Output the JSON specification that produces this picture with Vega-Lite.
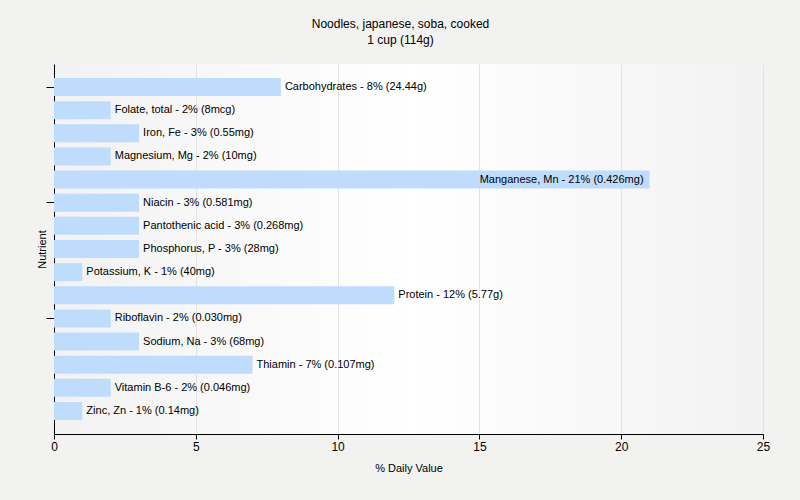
{
  "$schema": "https://vega.github.io/schema/vega-lite/v6.json",
  "width": 709,
  "height": 370,
  "autosize": {"type": "none"},
  "padding": {"left": 54, "top": 64, "right": 37, "bottom": 66},
  "background": "#f2f2f1",
  "title": {
    "text": ["Noodles, japanese, soba, cooked", "1 cup (114g)"],
    "font": "Liberation Sans",
    "fontSize": 12,
    "fontWeight": "normal",
    "color": "#000000",
    "anchor": "middle",
    "dx": -8,
    "offset": 17,
    "lineHeight": 16
  },
  "config": {
    "view": {
      "stroke": null,
      "fill": {
        "gradient": "linear",
        "x1": 0, "y1": 0, "x2": 1, "y2": 0,
        "stops": [
          {"offset": 0, "color": "#f2f2f2"},
          {"offset": 0.5, "color": "#ffffff"},
          {"offset": 1, "color": "#f2f2f2"}
        ]
      }
    }
  },
  "data": {
    "values": [
      {"nutrient": "Carbohydrates", "value": 8, "label": "Carbohydrates - 8% (24.44g)"},
      {"nutrient": "Folate, total", "value": 2, "label": "Folate, total - 2% (8mcg)"},
      {"nutrient": "Iron, Fe", "value": 3, "label": "Iron, Fe - 3% (0.55mg)"},
      {"nutrient": "Magnesium, Mg", "value": 2, "label": "Magnesium, Mg - 2% (10mg)"},
      {"nutrient": "Manganese, Mn", "value": 21, "label": "Manganese, Mn - 21% (0.426mg)"},
      {"nutrient": "Niacin", "value": 3, "label": "Niacin - 3% (0.581mg)"},
      {"nutrient": "Pantothenic acid", "value": 3, "label": "Pantothenic acid - 3% (0.268mg)"},
      {"nutrient": "Phosphorus, P", "value": 3, "label": "Phosphorus, P - 3% (28mg)"},
      {"nutrient": "Potassium, K", "value": 1, "label": "Potassium, K - 1% (40mg)"},
      {"nutrient": "Protein", "value": 12, "label": "Protein - 12% (5.77g)"},
      {"nutrient": "Riboflavin", "value": 2, "label": "Riboflavin - 2% (0.030mg)"},
      {"nutrient": "Sodium, Na", "value": 3, "label": "Sodium, Na - 3% (68mg)"},
      {"nutrient": "Thiamin", "value": 7, "label": "Thiamin - 7% (0.107mg)"},
      {"nutrient": "Vitamin B-6", "value": 2, "label": "Vitamin B-6 - 2% (0.046mg)"},
      {"nutrient": "Zinc, Zn", "value": 1, "label": "Zinc, Zn - 1% (0.14mg)"}
    ]
  },
  "encoding": {
    "y": {
      "field": "nutrient",
      "type": "nominal",
      "sort": null,
      "scale": {"paddingInner": 0.222, "paddingOuter": 0.605},
      "axis": {
        "title": "Nutrient",
        "labels": false,
        "values": ["Carbohydrates", "Niacin", "Riboflavin"],
        "tickSize": 8,
        "tickColor": "#000000",
        "domainColor": "#000000",
        "titleFont": "Liberation Sans",
        "titleFontSize": 11,
        "titleFontWeight": "normal",
        "titleColor": "#000000",
        "titleAngle": -90,
        "titleX": -7,
        "titleY": 185,
        "titleAlign": "center",
        "titleBaseline": "bottom"
      }
    },
    "x": {
      "field": "value",
      "type": "quantitative",
      "scale": {"domain": [0, 25], "nice": false},
      "axis": {
        "title": "% Daily Value",
        "values": [0, 5, 10, 15, 20, 25],
        "grid": true,
        "gridColor": "#e2e2e2",
        "tickSize": 5,
        "tickColor": "#000000",
        "domainColor": "#000000",
        "labelFont": "Liberation Sans",
        "labelFontSize": 12,
        "labelColor": "#000000",
        "labelPadding": 2,
        "labelFlush": false,
        "titleFont": "Liberation Sans",
        "titleFontSize": 11,
        "titleFontWeight": "normal",
        "titleColor": "#000000",
        "titlePadding": 10
      }
    }
  },
  "layer": [
    {"mark": {"type": "bar", "color": "#bfdcfd"}},
    {
      "transform": [{"filter": "datum.value < 18"}],
      "mark": {"type": "text", "align": "left", "baseline": "middle", "dx": 4, "font": "Liberation Sans", "fontSize": 11, "color": "#000000"},
      "encoding": {"text": {"field": "label"}}
    },
    {
      "transform": [{"filter": "datum.value >= 18"}],
      "mark": {"type": "text", "align": "right", "baseline": "middle", "dx": -6, "font": "Liberation Sans", "fontSize": 11, "color": "#000000"},
      "encoding": {"text": {"field": "label"}}
    }
  ]
}
